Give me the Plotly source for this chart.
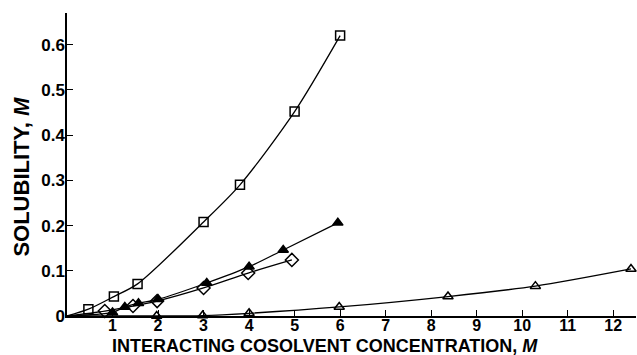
import plotly.graph_objects as go

# Data
sq_x = [0.47, 1.03, 1.55, 3.0, 3.8, 5.0, 6.0]
sq_y = [0.015, 0.043, 0.071, 0.208, 0.29, 0.452, 0.62]

ft_x = [1.0, 1.27, 1.57, 2.0, 3.07, 4.0, 4.75, 5.95]
ft_y = [0.008, 0.02, 0.028, 0.037, 0.073, 0.109, 0.146, 0.206]

dm_x = [0.83, 1.45, 1.98, 3.0, 3.98, 4.94]
dm_y = [0.011, 0.022, 0.033, 0.062, 0.095, 0.124]

ot_x = [1.97, 2.98, 4.0, 5.98, 8.37, 10.29, 12.39]
ot_y = [0.0, 0.001, 0.006, 0.02, 0.043, 0.066, 0.104]

x_ticks = list(range(1, 13))
y_ticks = [0, 0.1, 0.2, 0.3, 0.4, 0.5, 0.6]
y_tick_text = ["0", "0.1", "0.2", "0.3", "0.4", "0.5", "0.6"]

origin = [0.0]

fig = go.Figure()

series = [
    (sq_x, sq_y, "square-open", 9),
    (ft_x, ft_y, "triangle-up", 9),
    (dm_x, dm_y, "diamond-open", 10),
    (ot_x, ot_y, "triangle-up-open", 9),
]

for xs, ys, sym, size in series:
    fig.add_trace(go.Scatter(
        x=origin + xs, y=origin + ys, mode="lines",
        line=dict(color="black", width=1.3, shape="spline", smoothing=0.8),
        hoverinfo="skip", showlegend=False, cliponaxis=False))
    fig.add_trace(go.Scatter(
        x=xs, y=ys, mode="markers", cliponaxis=False,
        marker=dict(symbol=sym, size=size, color="black",
                    line=dict(color="black", width=1.5)),
        showlegend=False))

FAM = "Liberation Sans, Arial, sans-serif"
xtickfont = dict(family=FAM, size=16, color="black", weight="bold")
ytickfont = dict(family=FAM, size=17, color="black", weight="bold")

fig.update_layout(
    width=637, height=355,
    margin=dict(l=67, r=1, t=13, b=39),
    paper_bgcolor="white", plot_bgcolor="white",
    font=dict(family=FAM, size=15, color="black"),
    xaxis=dict(range=[0, 12.5], tickvals=x_ticks, ticks="inside", ticklen=6,
               tickwidth=1.3, tickcolor="black", showline=True, linecolor="black",
               linewidth=1.5, showgrid=False, zeroline=False, tickfont=xtickfont,
               ticklabelstandoff=-6),
    yaxis=dict(range=[0, 0.67], tickvals=y_ticks, ticktext=y_tick_text,
               ticks="inside", ticklen=6, tickwidth=1.3, tickcolor="black",
               showline=True, linecolor="black", linewidth=1.5,
               showgrid=False, zeroline=False, tickfont=ytickfont,
               ticklabelstandoff=-3),
    annotations=[
        dict(text="INTERACTING COSOLVENT CONCENTRATION, <i>M</i>",
             xref="paper", yref="paper", x=0.454, y=0, yshift=-30,
             xanchor="center", yanchor="middle", showarrow=False, borderpad=0,
             font=dict(family=FAM, size=18, color="black", weight="bold")),
        dict(text="SOLUBILITY, <i>M</i>",
             xref="paper", yref="paper", x=0, y=0.46, xshift=-45,
             xanchor="center", yanchor="middle", showarrow=False, textangle=-90,
             font=dict(family=FAM, size=22, color="black", weight="bold")),
    ],
)

fig.write_html("out.html", config={"displayModeBar": False},
               post_script="document.body.style.margin='0';")
